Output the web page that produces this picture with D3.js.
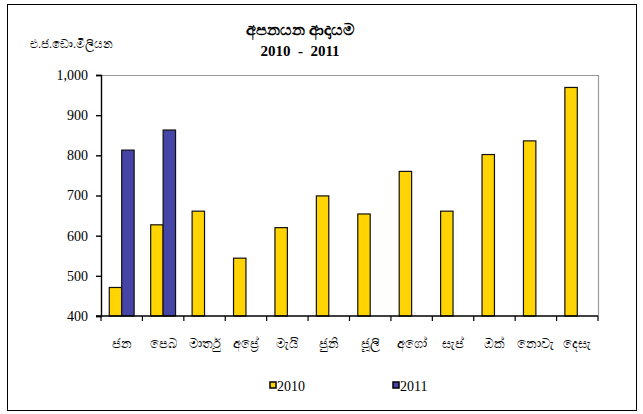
<!DOCTYPE html>
<html>
<head>
<meta charset="utf-8">
<script src="https://cdn.jsdelivr.net/npm/d3@7"></script>
<style>
  body { margin: 0; background: #fff; }
  text { font-family: "Liberation Serif", "Times New Roman", serif; fill: #000; }
</style>
</head>
<body>
<div id="display-container"></div>
<script>
var months = ["ජන", "පෙබ", "මාර්තු", "අප්‍රේ", "මැයි", "ජුනි", "ජූලි", "අගෝ", "සැප්", "ඔක්", "නොවැ", "දෙසැ"];
var values2010 = [471, 627, 661, 544, 620, 699, 654, 760, 661, 802, 836, 969];
var values2011 = [813, 863];
var yTicks = [400, 500, 600, 700, 800, 900, 1000];
var seriesNames = ["2010", "2011"];
var colors = ["#FFD400", "#4545A8"];

var width = 643, height = 414;
var margin = {top: 75, right: 45, bottom: 98, left: 101};

var svg = d3.select("#display-container").append("svg")
    .attr("width", width)
    .attr("height", height);

// outer frame
svg.append("rect")
    .attr("x", 7.5).attr("y", 4.5)
    .attr("width", 629).attr("height", 406)
    .attr("fill", "none").attr("stroke", "#000").attr("stroke-width", 1);

var x = d3.scaleBand().domain(months)
    .range([margin.left, width - margin.right]);
var y = d3.scaleLinear().domain([400, 1000])
    .range([height - margin.bottom, margin.top]);

// plot frame (grey top and right)
svg.append("path")
    .attr("d", "M" + margin.left + "," + (margin.top + 0.5) + "H" + (width - margin.right + 0.5) + "V" + (height - margin.bottom))
    .attr("fill", "none").attr("stroke", "#999").attr("stroke-width", 1.2);

var bw = x.bandwidth() * 0.3;

var data = [];
months.forEach(function(m, i){
    if (values2010[i] != null) data.push({m: m, s: 0, v: values2010[i]});
    if (values2011[i] != null) data.push({m: m, s: 1, v: values2011[i]});
});

svg.append("g").selectAll("rect")
    .data(data)
    .enter().append("rect")
    .attr("x", function(d){ return x(d.m) + x.bandwidth() / 2 - bw + d.s * bw; })
    .attr("y", function(d){ return y(d.v); })
    .attr("width", bw)
    .attr("height", function(d){ return y(400) - y(d.v); })
    .attr("fill", function(d){ return colors[d.s]; })
    .attr("stroke", "#111")
    .attr("stroke-width", 1.2);

// y axis
var yAxis = svg.append("g")
    .attr("transform", "translate(" + margin.left + ",0)")
    .call(d3.axisLeft(y).tickValues(yTicks).tickSize(5).tickPadding(8).tickFormat(d3.format(",")));
yAxis.selectAll("text").style("font-size", "14px").style("font-family", "Liberation Serif");
yAxis.selectAll("line, path").attr("stroke", "#000").attr("stroke-width", 1.4);

// x axis with ticks at category boundaries
var xg = svg.append("g").attr("transform", "translate(0," + y(400) + ")");
xg.append("line")
    .attr("x1", margin.left - 5).attr("x2", width - margin.right)
    .attr("stroke", "#000").attr("stroke-width", 1.4);
xg.selectAll(".tk")
    .data(months.concat(["end"]))
    .enter().append("line")
    .attr("x1", function(d, i){ return margin.left + i * x.step(); })
    .attr("x2", function(d, i){ return margin.left + i * x.step(); })
    .attr("y1", 0).attr("y2", 5)
    .attr("stroke", "#000").attr("stroke-width", 1.2);
xg.selectAll(".lbl")
    .data(months)
    .enter().append("text")
    .attr("x", function(d){ return x(d) + x.bandwidth() / 2; })
    .attr("y", 32)
    .attr("text-anchor", "middle")
    .style("font-size", "13px")
    .text(function(d){ return d; });

// titles
svg.append("text")
    .attr("x", 300).attr("y", 35)
    .attr("text-anchor", "middle")
    .style("font-size", "16px").style("font-weight", "bold")
    .text("අපනයන ආදායම");
svg.append("text")
    .attr("x", 300).attr("y", 56)
    .attr("text-anchor", "middle")
    .style("font-size", "15px").style("font-weight", "bold")
    .style("white-space", "pre")
    .text("2010  -  2011");
svg.append("text")
    .attr("x", 30).attr("y", 48)
    .style("font-size", "12px")
    .text("එ.ජ.ඩො.මිලියන");

// legend
var legend = svg.append("g").selectAll("g")
    .data(seriesNames)
    .enter().append("g")
    .attr("transform", function(d, i){ return "translate(" + (270 + i * 123) + ",382)"; });
legend.append("rect")
    .attr("width", 6).attr("height", 6)
    .attr("fill", function(d, i){ return colors[i]; })
    .attr("stroke", "#000").attr("stroke-width", 1.5);
legend.append("text")
    .attr("x", 7).attr("y", 9)
    .style("font-size", "14px")
    .text(function(d){ return d; });
</script>
</body>
</html>
